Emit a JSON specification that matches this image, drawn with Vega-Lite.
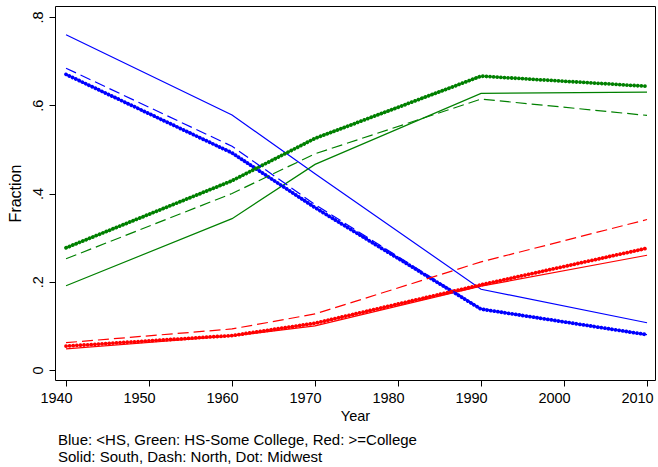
{
  "$schema": "https://vega.github.io/schema/vega-lite/v6.json",
  "autosize": "none",
  "width": 600,
  "height": 374,
  "padding": {"left": 55, "top": 6, "right": 3, "bottom": 87},
  "background": "white",
  "config": {
    "font": "Liberation Sans",
    "view": {"stroke": "black", "strokeWidth": 1},
    "axis": {"grid": false, "domain": false, "tickColor": "black", "labelColor": "black", "titleColor": "black", "tickSize": 6, "labelFont": "Liberation Sans", "titleFont": "Liberation Sans", "titleFontWeight": "normal"}
  },
  "data": {
    "values": [
      {"year": 1940, "edu": "<HS", "region": "South", "value": 0.760},
      {"year": 1960, "edu": "<HS", "region": "South", "value": 0.578},
      {"year": 1970, "edu": "<HS", "region": "South", "value": 0.445},
      {"year": 1990, "edu": "<HS", "region": "South", "value": 0.183},
      {"year": 2010, "edu": "<HS", "region": "South", "value": 0.107},
      {"year": 1940, "edu": "<HS", "region": "North", "value": 0.684},
      {"year": 1960, "edu": "<HS", "region": "North", "value": 0.507},
      {"year": 1970, "edu": "<HS", "region": "North", "value": 0.375},
      {"year": 1990, "edu": "<HS", "region": "North", "value": 0.139},
      {"year": 2010, "edu": "<HS", "region": "North", "value": 0.080},
      {"year": 1940, "edu": "<HS", "region": "Midwest", "value": 0.670},
      {"year": 1960, "edu": "<HS", "region": "Midwest", "value": 0.492},
      {"year": 1970, "edu": "<HS", "region": "Midwest", "value": 0.368},
      {"year": 1990, "edu": "<HS", "region": "Midwest", "value": 0.138},
      {"year": 2010, "edu": "<HS", "region": "Midwest", "value": 0.080},
      {"year": 1940, "edu": "HS-Some College", "region": "South", "value": 0.191},
      {"year": 1960, "edu": "HS-Some College", "region": "South", "value": 0.343},
      {"year": 1970, "edu": "HS-Some College", "region": "South", "value": 0.466},
      {"year": 1990, "edu": "HS-Some College", "region": "South", "value": 0.627},
      {"year": 2010, "edu": "HS-Some College", "region": "South", "value": 0.630},
      {"year": 1940, "edu": "HS-Some College", "region": "North", "value": 0.252},
      {"year": 1960, "edu": "HS-Some College", "region": "North", "value": 0.400},
      {"year": 1970, "edu": "HS-Some College", "region": "North", "value": 0.490},
      {"year": 1990, "edu": "HS-Some College", "region": "North", "value": 0.614},
      {"year": 2010, "edu": "HS-Some College", "region": "North", "value": 0.577},
      {"year": 1940, "edu": "HS-Some College", "region": "Midwest", "value": 0.277},
      {"year": 1960, "edu": "HS-Some College", "region": "Midwest", "value": 0.429},
      {"year": 1970, "edu": "HS-Some College", "region": "Midwest", "value": 0.525},
      {"year": 1990, "edu": "HS-Some College", "region": "Midwest", "value": 0.666},
      {"year": 2010, "edu": "HS-Some College", "region": "Midwest", "value": 0.643},
      {"year": 1940, "edu": ">=College", "region": "South", "value": 0.048},
      {"year": 1960, "edu": ">=College", "region": "South", "value": 0.077},
      {"year": 1970, "edu": ">=College", "region": "South", "value": 0.100},
      {"year": 1990, "edu": ">=College", "region": "South", "value": 0.190},
      {"year": 2010, "edu": ">=College", "region": "South", "value": 0.260},
      {"year": 1940, "edu": ">=College", "region": "North", "value": 0.062},
      {"year": 1960, "edu": ">=College", "region": "North", "value": 0.093},
      {"year": 1970, "edu": ">=College", "region": "North", "value": 0.127},
      {"year": 1990, "edu": ">=College", "region": "North", "value": 0.245},
      {"year": 2010, "edu": ">=College", "region": "North", "value": 0.341},
      {"year": 1940, "edu": ">=College", "region": "Midwest", "value": 0.054},
      {"year": 1960, "edu": ">=College", "region": "Midwest", "value": 0.078},
      {"year": 1970, "edu": ">=College", "region": "Midwest", "value": 0.106},
      {"year": 1990, "edu": ">=College", "region": "Midwest", "value": 0.193},
      {"year": 2010, "edu": ">=College", "region": "Midwest", "value": 0.276}
    ]
  },
  "title": {
    "text": ["Blue: <HS, Green: HS-Some College, Red: >=College", "Solid: South, Dash: North, Dot: Midwest"],
    "orient": "bottom",
    "anchor": "start",
    "frame": "group",
    "offset": 10,
    "fontSize": 15,
    "fontWeight": "normal",
    "font": "Liberation Sans",
    "color": "black",
    "lineHeight": 17,
    "dx": 3
  },
  "encoding": {
    "x": {
      "field": "year", "type": "quantitative",
      "scale": {"domain": [1938.67, 2010.96], "nice": false, "zero": false},
      "axis": {"values": [1940, 1950, 1960, 1970, 1980, 1990, 2000, 2010], "format": "d", "title": "Year", "labelFontSize": 14.5, "labelOffset": -10, "titleFontSize": 14.5, "labelPadding": 5, "titlePadding": 5}
    },
    "y": {
      "field": "value", "type": "quantitative",
      "scale": {"domain": [-0.0227, 0.825], "nice": false, "zero": false},
      "axis": {"values": [0, 0.2, 0.4, 0.6, 0.8], "labelExpr": "datum.value == 0 ? '0' : replace(format(datum.value, '.1f'), '0.', '.')", "title": "Fraction", "labelAngle": -90, "labelAlign": "center", "labelBaseline": "bottom", "labelFontSize": 14.5, "titleFontSize": 16, "labelPadding": 4, "titlePadding": 7}
    },
    "color": {
      "field": "edu", "type": "nominal",
      "scale": {"domain": ["<HS", "HS-Some College", ">=College"], "range": ["#0000ff", "#008000", "#ff0000"]},
      "legend": null
    },
    "detail": {"field": "region"}
  },
  "layer": [
    {
      "transform": [{"filter": "datum.region == 'South'"}],
      "mark": {"type": "line", "strokeWidth": 1.2}
    },
    {
      "transform": [{"filter": "datum.region == 'Midwest'"}],
      "mark": {"type": "line", "strokeWidth": 3.8, "strokeDash": [0.01, 3.6], "strokeCap": "round"}
    },
    {
      "transform": [{"filter": "datum.region == 'North'"}],
      "mark": {"type": "line", "strokeWidth": 1.2, "strokeDash": [11, 5]}
    }
  ]
}
